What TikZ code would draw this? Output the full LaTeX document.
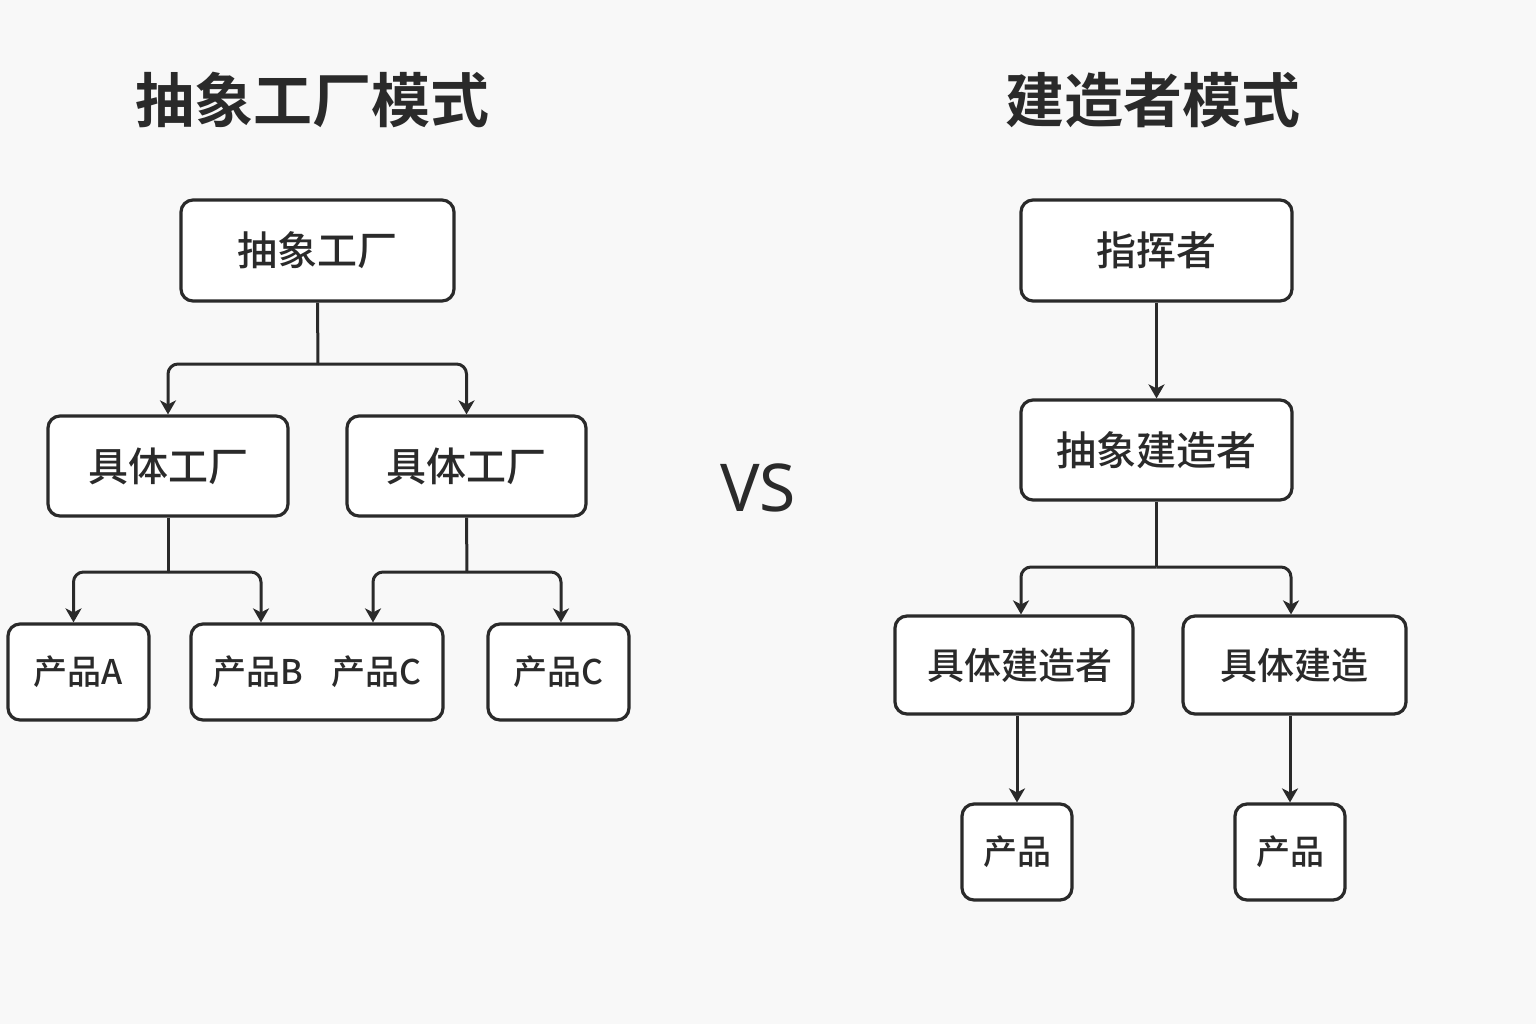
\documentclass[tikz,border=0pt]{standalone}
\usepackage{fontspec}
\setmainfont{Noto Sans CJK SC}[UprightFont={* Medium}]
\newfontfamily\cjkb{Noto Sans CJK SC Bold}
\newfontfamily\vsfont{Noto Sans}
\usetikzlibrary{arrows.meta,calc}
\definecolor{bg}{HTML}{F8F8F8}
\definecolor{ink}{HTML}{2A2A2A}
\begin{document}
\begin{tikzpicture}[x=0.5pt,y=-0.5pt,
  box/.style={draw=ink,line width=1.6pt,rounded corners=6pt,fill=white,text=ink,inner sep=0pt,font=\fontsize{20pt}{24pt}\selectfont},
  small/.style={box,font=\fontsize{17pt}{20pt}\selectfont},
  conn/.style={draw=ink,line width=1.5pt,rounded corners=5pt},
  arr/.style={conn,-{Stealth[length=7pt,width=8pt,inset=2pt]}},
  title/.style={text=ink,font=\cjkb\fontsize{29.5pt}{34pt}\selectfont}]
\useasboundingbox[fill=bg] (0,0) rectangle (1536,1024);
% titles
\node[title] (t1) at (312,100) {抽象工厂模式};
\node[title] (t2) at (1153,100) {建造者模式};
\node[text=ink,font=\vsfont\fontsize{33pt}{38pt}\selectfont] (vs) at (758,488) {VS};
% left side
\node[box,minimum width=136.5pt,minimum height=50.5pt] (af) at (317.5,250.5) {抽象工厂};
\node[box,minimum width=120pt,minimum height=50pt] (cf1) at (168,466) {具体工厂};
\node[box,minimum width=119.5pt,minimum height=50pt] (cf2) at (466.5,466) {具体工厂};
\node[small,minimum width=70.5pt,minimum height=48pt] (pa) at (78.5,672) {产品A};
\node[small,minimum width=126pt,minimum height=48pt] (pbc) at (317,672) {产品B\hspace{14pt}产品C};
\node[small,minimum width=70.5pt,minimum height=48pt] (pc) at (558.5,672) {产品C};
\coordinate (b1) at (318,364);
\coordinate (b2) at (168,572);
\coordinate (b3) at (467,572);
\draw[conn] (af.south) -- (b1);
\draw[arr] (b1) -| (cf1.north);
\draw[arr] (b1) -| (cf2.north);
\draw[conn] (cf1.south) -- (b2);
\draw[arr] (b2) -| ($(pa.north)+(-5,0)$);
\draw[arr] (b2) -| ($(pbc.north)+(-56,0)$);
\draw[conn] (cf2.south) -- (b3);
\draw[arr] (b3) -| ($(pbc.north)+(56,0)$);
\draw[arr] (b3) -| ($(pc.north)+(2.5,0)$);
% right side
\node[box,minimum width=135.5pt,minimum height=50.5pt] (dir) at (1156.5,250.5) {指挥者};
\node[box,minimum width=135.5pt,minimum height=50pt] (ab) at (1156.5,450) {抽象建造者};
\node[box,minimum width=119pt,minimum height=49pt,font=\fontsize{18.5pt}{22pt}\selectfont] (cb1) at (1014,665) {\hspace{6pt}具体建造者};
\node[box,minimum width=111.5pt,minimum height=49pt,font=\fontsize{18.5pt}{22pt}\selectfont] (cb2) at (1294.5,665) {具体建造\hspace{6pt}};
\node[small,minimum width=55pt,minimum height=48pt] (p1) at (1017,852) {产品};
\node[small,minimum width=55pt,minimum height=48pt] (p2) at (1290,852) {产品};
\coordinate (b4) at (1156.5,567);
\draw[arr] (dir.south) -- (ab.north);
\draw[conn] (ab.south) -- (b4);
\draw[arr] (b4) -| ($(cb1.north)+(7,0)$);
\draw[arr] (b4) -| ($(cb2.north)+(-3.5,0)$);
\draw[arr] (p1.north |- cb1.south) -- (p1.north);
\draw[arr] (p2.north |- cb2.south) -- (p2.north);
\end{tikzpicture}
\end{document}
